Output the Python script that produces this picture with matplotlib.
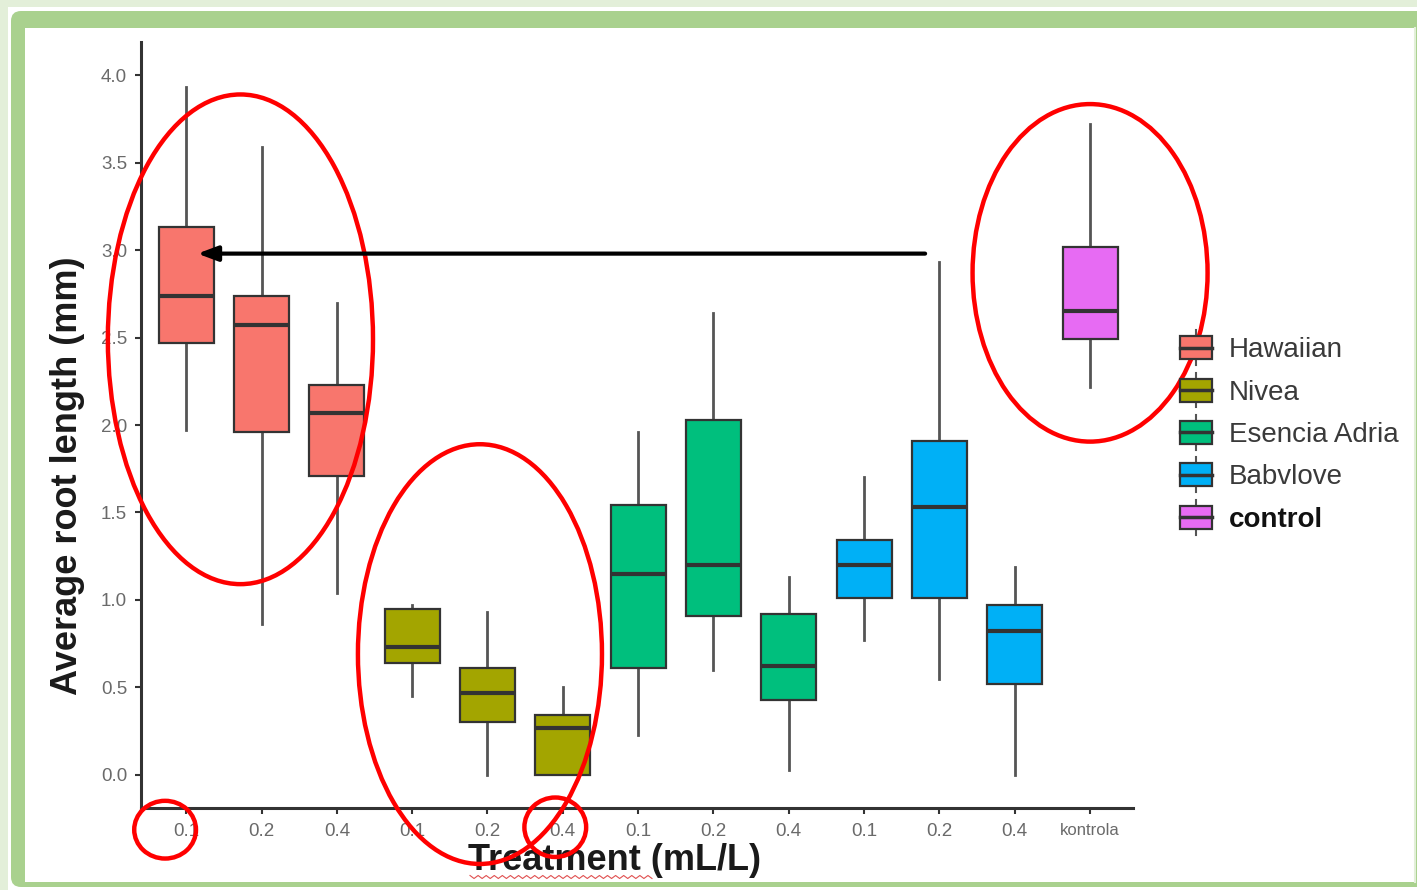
import numpy as np
import matplotlib
matplotlib.use("Agg")
import matplotlib.pyplot as plt
from matplotlib.patches import Rectangle, Ellipse, Patch, FancyBboxPatch
from matplotlib.lines import Line2D
from matplotlib.legend_handler import HandlerBase

plt.rcParams['font.family'] = ['Liberation Sans', 'DejaVu Sans']

# data
groups = ["Hawaiian", "Nivea", "Esencia Adria", "Babvlove", "control"]
colors = ["#F8766D", "#A3A500", "#00BF7D", "#00B0F6", "#E76BF3"]
tick_labels = ["0.1", "0.2", "0.4", "0.1", "0.2", "0.4", "0.1", "0.2", "0.4",
               "0.1", "0.2", "0.4", "kontrola"]
box_group = [0, 0, 0, 1, 1, 1, 2, 2, 2, 3, 3, 3, 4]
whislo = [1.97, 0.86, 1.04, 0.45, 0.00, 0.00, 0.23, 0.60, 0.03, 0.77, 0.55, 0.00, 2.22]
q1 = [2.47, 1.96, 1.71, 0.64, 0.30, 0.00, 0.61, 0.91, 0.43, 1.01, 1.01, 0.52, 2.49]
med = [2.74, 2.57, 2.07, 0.73, 0.47, 0.27, 1.15, 1.20, 0.62, 1.20, 1.53, 0.82, 2.65]
q3 = [3.13, 2.74, 2.23, 0.95, 0.61, 0.34, 1.54, 2.03, 0.92, 1.34, 1.91, 0.97, 3.02]
whishi = [3.93, 3.59, 2.70, 0.97, 0.93, 0.50, 1.96, 2.64, 1.13, 1.70, 2.93, 1.19, 3.72]

W, H = 1417, 890
fig = plt.figure(figsize=(W / 100, H / 100), dpi=100)
fig.patch.set_facecolor("#e3efd9")

# slide frame in pixel coordinates
bg = fig.add_axes([0, 0, 1, 1], zorder=-5)
bg.set_xlim(0, W)
bg.set_ylim(H, 0)
bg.axis("off")
bg.add_patch(Rectangle((8, 7), W, H, facecolor="white", edgecolor="none"))
bg.add_patch(FancyBboxPatch((11, 11), W + 40, 876, boxstyle="round,pad=0,rounding_size=10",
                            facecolor="#a9d18e", edgecolor="none"))
bg.add_patch(Rectangle((25, 28), W - 27, 854, facecolor="white", edgecolor="none"))
bg.plot([W - 2, W - 2], [28, 882], color="#e3efd9", lw=1.5)

# spell-check squiggle under "Treatment"
sx = np.linspace(470, 652, 46)
sy = np.where(np.arange(46) % 2 == 0, 875.5, 878.5)
bg.plot(sx, sy, color="#e05050", lw=0.8)

ax = fig.add_axes([141 / W, 1 - 808 / H, (1133 - 141) / W, (808 - 42) / H])
ax.set_facecolor("none")

stats = []
for i in range(len(tick_labels)):
    stats.append(dict(med=med[i], q1=q1[i], q3=q3[i], whislo=whislo[i],
                      whishi=whishi[i], fliers=[]))
pos = np.arange(1, len(tick_labels) + 1)
bp = ax.bxp(stats, positions=pos, widths=0.73, patch_artist=True, showcaps=False,
            showfliers=False,
            boxprops=dict(edgecolor="#333333", linewidth=1.6),
            medianprops=dict(color="#333333", linewidth=3.0),
            whiskerprops=dict(color="#555555", linewidth=2.0))
for b, g in zip(bp["boxes"], box_group):
    b.set_facecolor(colors[g])
    b.set_zorder(3)
for m in bp["medians"]:
    m.set_zorder(4)

ax.set_xlim(0.40, 13.57)
ax.set_ylim(-0.19, 4.19)
ax.set_xticks(pos)
ax.set_xticklabels(tick_labels)
ax.set_yticks([0, 0.5, 1, 1.5, 2, 2.5, 3, 3.5, 4])
ax.set_yticklabels(["0.0", "0.5", "1.0", "1.5", "2.0", "2.5", "3.0", "3.5", "4.0"])
ax.tick_params(axis="both", colors="#333333", labelcolor="#6a6a6a", labelsize=13.5,
               length=4, width=1.5)
ax.tick_params(axis="x", pad=7)
ax.tick_params(axis="y", pad=6)
for lab in ax.get_xticklabels():
    if lab.get_text() == "kontrola":
        lab.set_fontsize(12)
for s in ["top", "right"]:
    ax.spines[s].set_visible(False)
for s in ["left", "bottom"]:
    ax.spines[s].set_color("#333333")
    ax.spines[s].set_linewidth(2.2)

ax.set_ylabel("Average root length (mm)", fontsize=26, fontweight="bold", color="#1a1a1a")
ax.yaxis.set_label_coords(-(141 - 68) / (1133 - 141), (808 - 476) / (808 - 42))
ax.yaxis.label.set_va("center")
ax.set_xlabel("Treatment (mL/L)", fontsize=26, fontweight="bold", color="#1a1a1a")
ax.xaxis.set_label_coords((615 - 141) / (1133 - 141), -(860 - 808) / (808 - 42))
ax.xaxis.label.set_va("center")


class BoxHandler(HandlerBase):
    def create_artists(self, legend, orig_handle, xdescent, ydescent, width, height,
                       fontsize, trans):
        c = orig_handle.get_facecolor()
        x0, y0 = -xdescent, -ydescent
        rect = Rectangle((x0, y0 + 0.04 * height), width, 0.92 * height, facecolor=c,
                         edgecolor="#333333", lw=1.6, transform=trans)
        wl = Line2D([x0 + width / 2] * 2, [y0 - 0.2 * height, y0 + 1.2 * height],
                    color="#555555", lw=1.5, transform=trans)
        ml = Line2D([x0, x0 + width], [y0 + 0.5 * height] * 2, color="#333333", lw=2.5,
                    transform=trans)
        return [wl, rect, ml]


handles = [Patch(facecolor=c, label=g) for g, c in zip(groups, colors)]
leg = fig.legend(handles=handles, loc="center left", bbox_to_anchor=(1180 / W, 1 - 434 / H),
                 frameon=False, fontsize=20, handlelength=1.15, handleheight=1.0,
                 handletextpad=0.6, labelspacing=0.52, borderpad=0, borderaxespad=0,
                 handler_map={Patch: BoxHandler()})
for t in leg.get_texts():
    t.set_color("#3a3a3a")
leg.get_texts()[-1].set_fontweight("bold")
leg.get_texts()[-1].set_color("#111111")

# red highlight ellipses and arrow drawn over the chart
red = "#ff0000"
for (cx, cy, ew, eh) in [(1.72, 2.49, 3.52, 2.80), (4.90, 0.69, 3.24, 2.40),
                         (13.0, 2.87, 3.12, 1.93), (0.72, -0.314, 0.82, 0.33),
                         (5.90, -0.30, 0.82, 0.34)]:
    ax.add_patch(Ellipse((cx, cy), ew, eh, fill=False, edgecolor=red, lw=3.2,
                         clip_on=False, zorder=6))
ax.annotate("", xy=(1.15, 2.98), xytext=(10.81, 2.98),
            arrowprops=dict(arrowstyle="-|>,head_length=1.2,head_width=0.45",
                            color="black", lw=3, shrinkA=0, shrinkB=0),
            zorder=7, annotation_clip=False)

fig.savefig("out.png", dpi=100, facecolor=fig.get_facecolor())
